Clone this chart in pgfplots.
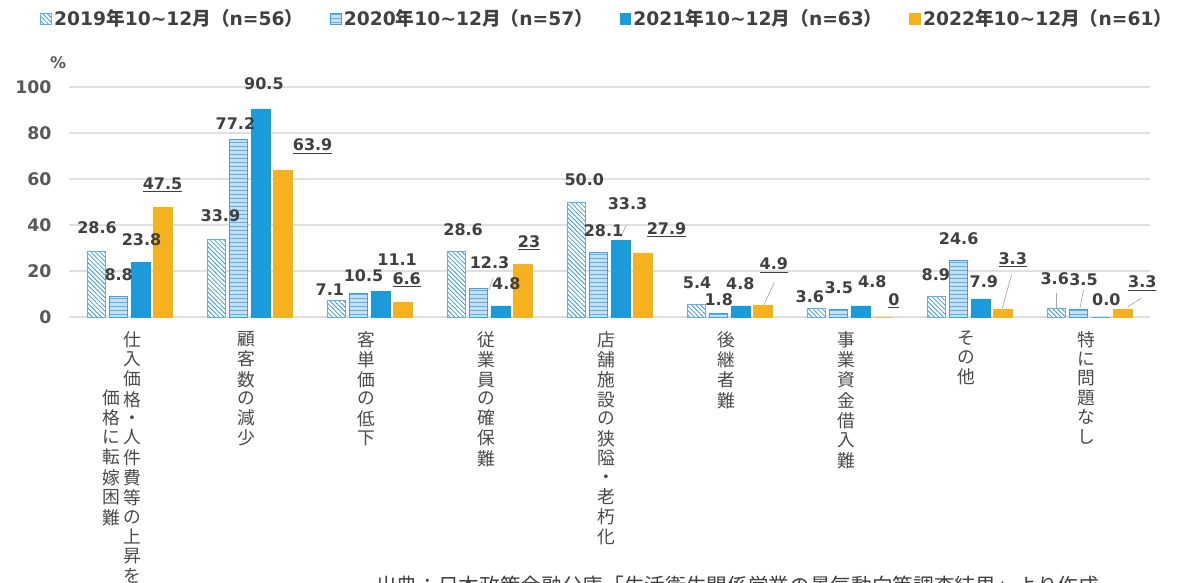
\documentclass[border=0pt]{standalone}
\usepackage{fontspec}
\usepackage{pgfplots}
\pgfplotsset{compat=1.18}
\usetikzlibrary{patterns.meta}
\setmainfont{DejaVu Sans}
\newfontfamily\cjk{Noto Sans CJK JP}
\definecolor{cAl}{HTML}{3D98D8}
\definecolor{cAb}{HTML}{62B0E6}
\definecolor{cBf}{HTML}{C3E0F5}
\definecolor{cBl}{HTML}{5FAEE6}
\definecolor{cBb}{HTML}{3FA2E0}
\definecolor{cC}{HTML}{1C9BDA}
\definecolor{cD}{HTML}{F5B21E}
\definecolor{txt}{HTML}{595959}
\definecolor{cat}{HTML}{4A4A4A}
\definecolor{lab}{HTML}{404040}
\definecolor{gridc}{HTML}{E0E0E0}
\definecolor{lead}{HTML}{A6A6A6}
\newcommand{\vt}[1]{\begin{tabular}{@{}c@{}}#1\end{tabular}}
\newcommand{\lbl}{\fontsize{12}{14}\selectfont\bfseries}
\begin{document}
\begin{tikzpicture}
\begin{axis}[
  at={(0,0)}, anchor=south west,
  scale only axis, width=810pt, height=172.5pt,
  xmin=-0.5, xmax=8.5, ymin=0, ymax=100,
  axis line style={draw=none},
  major tick length=0pt,
  ytick={0,20,40,60,80,100},
  ymajorgrids, grid style={gridc, line width=1.1pt},
  xtick={0,1,2,3,4,5,6,7,8},
  xticklabels={
    {\begin{tabular}{@{}c@{\hspace{2.5pt}}c@{\hspace{7pt}}}\vt{価\\格\\に\\転\\嫁\\困\\難}&\vt{仕\\入\\価\\格\\・\\人\\件\\費\\等\\の\\上\\昇\\を}\end{tabular}},
    {\vt{顧\\客\\数\\の\\減\\少}},
    {\vt{客\\単\\価\\の\\低\\下}},
    {\vt{従\\業\\員\\の\\確\\保\\難}},
    {\vt{店\\舗\\施\\設\\の\\狭\\隘\\・\\老\\朽\\化}},
    {\vt{後\\継\\者\\難}},
    {\vt{事\\業\\資\\金\\借\\入\\難}},
    {\vt{そ\\の\\他}},
    {\vt{特\\に\\問\\題\\な\\し}}},
  xticklabel style={font=\cjk\fontsize{13.3}{13.6}\selectfont, text=cat, anchor=north, inner sep=0pt, yshift=-10.5pt, xshift=-2.5pt},
  yticklabel style={font=\fontsize{13}{15}\selectfont\bfseries, text=txt, xshift=-10pt},
  /pgf/number format/assume math mode=true,
  clip=false,
  legend style={at={(axis description cs:-0.0273,1.296)}, anchor=west, legend columns=4, draw=none, fill=none,
    font=\fontsize{14}{16}\selectfont\bfseries, text=lab, inner sep=0pt,
    /tikz/every even column/.append style={column sep=18pt}},
  legend image code/.code={\draw[#1] (0pt,-4pt) rectangle (8pt,4pt);},
]
\addplot[ybar, bar width=0.155, bar shift=-0.2775, draw=cAb, fill=white,
  postaction={pattern={Lines[angle=-45,distance=2.4pt,line width=0.6pt]}, pattern color=cAl}]
  coordinates {(0,28.6) (1,33.9) (2,7.1) (3,28.6) (4,50.0) (5,5.4) (6,3.6) (7,8.9) (8,3.6)};
\addlegendentry{2019{\cjk\bfseries 年}10\textasciitilde12{\cjk\bfseries 月（}n=56{\cjk\bfseries ）}}
\addplot[ybar, bar width=0.155, bar shift=-0.0925, draw=cBb, fill=cBf,
  postaction={pattern={Lines[angle=0,distance=3pt,line width=0.5pt]}, pattern color=cBl}]
  coordinates {(0,8.8) (1,77.2) (2,10.5) (3,12.3) (4,28.1) (5,1.8) (6,3.5) (7,24.6) (8,3.5)};
\addlegendentry{2020{\cjk\bfseries 年}10\textasciitilde12{\cjk\bfseries 月（}n=57{\cjk\bfseries ）}}
\addplot[ybar, bar width=0.155, bar shift=0.0925, draw=cC, fill=cC]
  coordinates {(0,23.8) (1,90.5) (2,11.1) (3,4.8) (4,33.3) (5,4.8) (6,4.8) (7,7.9) (8,0.0)};
\addlegendentry{2021{\cjk\bfseries 年}10\textasciitilde12{\cjk\bfseries 月（}n=63{\cjk\bfseries ）}}
\addplot[ybar, bar width=0.155, bar shift=0.2775, draw=cD, fill=cD]
  coordinates {(0,47.5) (1,63.9) (2,6.6) (3,23) (4,27.9) (5,4.9) (6,0) (7,3.3) (8,3.3)};
\addlegendentry{2022{\cjk\bfseries 年}10\textasciitilde12{\cjk\bfseries 月（}n=61{\cjk\bfseries ）}}
% leader lines
\addplot[draw=lead, line width=0.5pt, forget plot] coordinates {(3.03,16.9) (2.995,11.7)};
\addplot[draw=lead, line width=0.5pt, forget plot] coordinates {(4.137,39.6) (4.094,34.9)};
\addplot[draw=lead, line width=0.5pt, forget plot] coordinates {(5.372,14.9) (5.286,5.2)};
\addplot[draw=lead, line width=0.5pt, forget plot] coordinates {(7.35,18.3) (7.273,3.8)};
\addplot[draw=lead, line width=0.5pt, forget plot] coordinates {(7.72,10.3) (7.72,3.8)};
\addplot[draw=lead, line width=0.5pt, forget plot] coordinates {(7.95,11.7) (7.92,3.8)};
\addplot[draw=lead, line width=0.5pt, forget plot] coordinates {(8.43,8.1) (8.32,4.5)};
% data labels
\addplot[forget plot, only marks, mark=*, mark size=0pt, mark options={draw=none,fill=none},
  point meta=explicit symbolic, nodes near coords,
  nodes near coords style={anchor=base, yshift=-4.4pt, font=\lbl, text=lab, inner sep=0pt}]
  table[meta=label]{
x y label
-0.27 38.7 28.6
0.758 43.9 33.9
1.67 11.7 7.1
2.78 37.8 28.6
3.79 59.6 50.0
4.73 14.9 5.4
5.67 8.8 3.6
6.72 18.3 8.9
7.71 16.8 3.6
-0.09 18.3 8.8
0.883 83.9 77.2
1.95 17.8 10.5
3.00 23.6 12.3
3.95 37.5 28.1
4.91 7.4 1.8
5.91 12.9 3.5
6.91 34.2 24.6
7.95 16.1 3.5
0.10 33.5 23.8
1.12 101.3 90.5
2.23 25.1 11.1
3.14 14.6 4.8
4.15 49.1 33.3
5.09 14.7 4.8
6.19 15.3 4.8
7.12 15.3 7.9
8.14 7.7 0.0
};
\addplot[forget plot, only marks, mark=*, mark size=0pt, mark options={draw=none,fill=none},
  point meta=explicit symbolic, nodes near coords={\underline{\pgfplotspointmeta}},
  nodes near coords style={anchor=base, yshift=-4.4pt, font=\lbl, text=lab, inner sep=0pt}]
  table[meta=label]{
x y label
0.275 58.1 47.5
1.526 74.8 63.9
2.31 16.7 6.6
3.33 32.7 23
4.475 38.6 27.9
5.37 23.0 4.9
6.37 7.7 0
7.36 25.5 3.3
8.44 15.3 3.3
};
\node[font=\fontsize{12}{14}\selectfont\bfseries, text=txt] at (axis description cs:-0.0106,1.104) {\%};
\end{axis}
\node[anchor=north west, font=\cjk\fontsize{15.5}{18}\selectfont, text=lab, inner sep=0pt] at (229.9pt,-194pt) {出典：日本政策金融公庫「生活衛生関係営業の景気動向等調査結果」より作成};
\pgfresetboundingbox
\useasboundingbox (-52.125pt,-198.75pt) rectangle (835.875pt,237.75pt);
\end{tikzpicture}
\end{document}
